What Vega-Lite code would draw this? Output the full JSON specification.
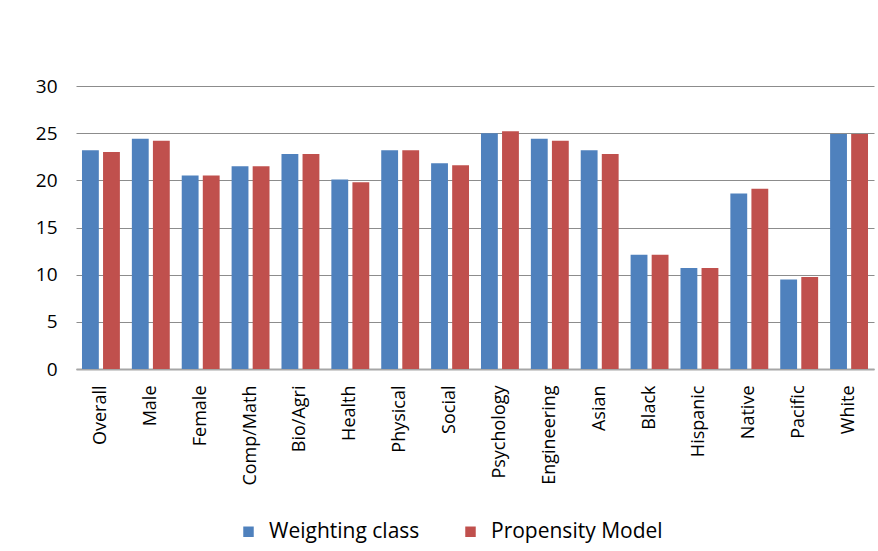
{
  "$schema": "https://vega.github.io/schema/vega-lite/v6.json",
  "autosize": {"type": "none"},
  "width": 798,
  "height": 283,
  "padding": {"left": 76, "top": 86, "right": 4, "bottom": 182},
  "background": "white",
  "data": {
    "values": [
      {"category": "Overall", "series": "Weighting class", "value": 23.2},
      {"category": "Overall", "series": "Propensity Model", "value": 23.0},
      {"category": "Male", "series": "Weighting class", "value": 24.4},
      {"category": "Male", "series": "Propensity Model", "value": 24.2},
      {"category": "Female", "series": "Weighting class", "value": 20.5},
      {"category": "Female", "series": "Propensity Model", "value": 20.5},
      {"category": "Comp/Math", "series": "Weighting class", "value": 21.5},
      {"category": "Comp/Math", "series": "Propensity Model", "value": 21.5},
      {"category": "Bio/Agri", "series": "Weighting class", "value": 22.8},
      {"category": "Bio/Agri", "series": "Propensity Model", "value": 22.8},
      {"category": "Health", "series": "Weighting class", "value": 20.1},
      {"category": "Health", "series": "Propensity Model", "value": 19.8},
      {"category": "Physical", "series": "Weighting class", "value": 23.2},
      {"category": "Physical", "series": "Propensity Model", "value": 23.2},
      {"category": "Social", "series": "Weighting class", "value": 21.8},
      {"category": "Social", "series": "Propensity Model", "value": 21.6},
      {"category": "Psychology", "series": "Weighting class", "value": 25.0},
      {"category": "Psychology", "series": "Propensity Model", "value": 25.2},
      {"category": "Engineering", "series": "Weighting class", "value": 24.4},
      {"category": "Engineering", "series": "Propensity Model", "value": 24.2},
      {"category": "Asian", "series": "Weighting class", "value": 23.2},
      {"category": "Asian", "series": "Propensity Model", "value": 22.8},
      {"category": "Black", "series": "Weighting class", "value": 12.1},
      {"category": "Black", "series": "Propensity Model", "value": 12.1},
      {"category": "Hispanic", "series": "Weighting class", "value": 10.7},
      {"category": "Hispanic", "series": "Propensity Model", "value": 10.7},
      {"category": "Native", "series": "Weighting class", "value": 18.6},
      {"category": "Native", "series": "Propensity Model", "value": 19.1},
      {"category": "Pacific", "series": "Weighting class", "value": 9.5},
      {"category": "Pacific", "series": "Propensity Model", "value": 9.75},
      {"category": "White", "series": "Weighting class", "value": 24.9},
      {"category": "White", "series": "Propensity Model", "value": 24.9}
    ]
  },
  "mark": {"type": "bar"},
  "encoding": {
    "x": {
      "field": "category",
      "type": "nominal",
      "sort": null,
      "title": null,
      "scale": {"paddingInner": 0.24, "paddingOuter": 0.12},
      "axis": {
        "labelAngle": -90,
        "labelAlign": "right",
        "labelBaseline": "middle",
        "labelPadding": 16,
        "ticks": false,
        "domainColor": "#A6A6A6",
        "domainWidth": 2,
        "labelFontSize": 18,
        "labelColor": "#000000",
        "labelFont": "Open Sans"
      }
    },
    "xOffset": {
      "field": "series",
      "type": "nominal",
      "sort": ["Weighting class", "Propensity Model"],
      "scale": {"paddingInner": 0.2, "paddingOuter": 0}
    },
    "y": {
      "field": "value",
      "type": "quantitative",
      "title": null,
      "scale": {"domain": [0, 30], "nice": false},
      "axis": {
        "values": [0, 5, 10, 15, 20, 25, 30],
        "domain": false,
        "ticks": false,
        "labelPadding": 19,
        "grid": true,
        "gridColor": "#8C8C8C",
        "gridWidth": 1,
        "labelFontSize": 19,
        "labelColor": "#000000",
        "labelFont": "Open Sans"
      }
    },
    "color": {
      "field": "series",
      "type": "nominal",
      "sort": ["Weighting class", "Propensity Model"],
      "scale": {"domain": ["Weighting class", "Propensity Model"], "range": ["#4F81BD", "#C0504D"]},
      "legend": {
        "title": null,
        "orient": "none",
        "legendX": 162,
        "legendY": 435,
        "direction": "horizontal",
        "symbolType": "square",
        "symbolSize": 110,
        "symbolStrokeWidth": 0,
        "labelFontSize": 21,
        "labelFont": "Open Sans",
        "labelColor": "#000000",
        "labelLimit": 400,
        "columnPadding": 40,
        "labelOffset": 10
      }
    }
  },
  "config": {
    "view": {"stroke": null}
  }
}
